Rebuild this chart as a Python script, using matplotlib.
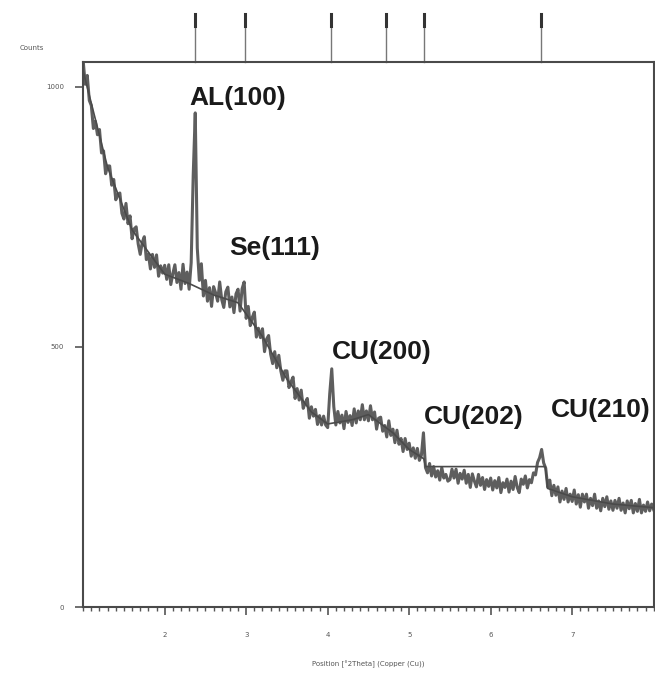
import numpy as np
import matplotlib
matplotlib.use('Agg')
import matplotlib.pyplot as plt
from matplotlib.ticker import MultipleLocator
import matplotlib.transforms as mtransforms

# scan grid in degrees (step 0.025)
two_theta = np.round(np.arange(1.0, 8.0001, 0.025), 3)

counts = np.array(
    [1050, 1005, 1022, 974, 964, 920, 934, 908, 918, 873, 877, 833, 848, 848, 811, 822, 783, 793, 796, 757,
     746, 776, 737, 752, 708, 727, 731, 698, 678, 701, 712, 668, 679, 650, 678, 653, 677, 636, 656, 642,
     657, 630, 658, 620, 641, 658, 624, 643, 611, 659, 622, 644, 611, 662, 830, 950, 690, 628, 660, 598,
     628, 588, 614, 578, 616, 604, 588, 625, 591, 576, 606, 615, 577, 596, 566, 602, 611, 569, 612, 625,
     555, 578, 541, 557, 567, 519, 536, 518, 535, 491, 515, 522, 486, 468, 491, 460, 484, 454, 436, 454,
     454, 422, 433, 442, 401, 420, 398, 417, 382, 393, 401, 363, 385, 367, 380, 351, 368, 350, 367, 350,
     345, 410, 458, 385, 350, 376, 354, 369, 343, 376, 355, 368, 349, 381, 354, 377, 360, 389, 360, 377,
     358, 387, 360, 375, 342, 363, 365, 338, 349, 327, 358, 330, 342, 316, 340, 313, 324, 299, 324, 303,
     315, 290, 306, 286, 305, 282, 292, 335, 268, 258, 276, 252, 270, 250, 262, 244, 268, 248, 255, 242,
     245, 265, 248, 265, 238, 257, 246, 263, 238, 255, 230, 256, 242, 231, 255, 234, 249, 226, 245, 232,
     248, 225, 243, 229, 249, 220, 239, 230, 246, 221, 242, 226, 251, 230, 220, 246, 236, 252, 229, 245,
     239, 258, 254, 278, 287, 303, 277, 267, 230, 244, 214, 234, 215, 231, 202, 223, 207, 228, 202, 217,
     203, 225, 198, 216, 192, 217, 202, 217, 190, 209, 195, 217, 190, 204, 185, 209, 193, 212, 188, 204,
     186, 205, 190, 209, 186, 200, 181, 204, 189, 205, 181, 199, 184, 207, 181, 196, 184, 202, 185, 198, 187])

# background / fitted line
bg_x = [1.0, 1.3, 1.6, 2.0, 2.3, 2.6, 2.9, 3.2, 3.5, 3.8, 4.0, 4.3, 4.5, 4.8, 5.0, 5.18, 5.2, 6.67, 6.7, 7.0, 7.5, 8.0]
bg_y = [1030, 845, 725, 640, 622, 600, 585, 520, 438, 375, 352, 360, 370, 335, 303, 285, 270, 270, 228, 212, 198, 191]

# reference peak markers along the top
marker_pos = [2.37, 2.98, 4.04, 4.72, 5.18, 6.62]

peak_labels = ['AL(100)', 'Se(111)', 'CU(200)', 'CU(202)', 'CU(210)']
label_x = [2.30, 2.79, 4.05, 5.18, 6.74]
label_y = [979, 691, 490, 365, 378]

x_ticks = [2, 3, 4, 5, 6, 7]
y_ticks = [0, 500, 1000]

fig = plt.figure(figsize=(6.55, 6.73), dpi=100)
ax = fig.add_axes([0.127, 0.098, 0.871, 0.81])

ax.plot(two_theta, counts, color='#5e5e5e', linewidth=2.2)
ax.plot(bg_x, bg_y, color='#4a4a4a', linewidth=1.2)

ax.set_xlim(1.0, 8.0)
ax.set_ylim(0, 1048)
ax.set_xticks(x_ticks)
ax.set_yticks(y_ticks)
ax.xaxis.set_minor_locator(MultipleLocator(0.1))
ax.tick_params(axis='both', which='major', direction='out', length=6, width=1.2,
               colors='#555555', labelsize=5)
ax.tick_params(axis='x', which='major', pad=12)
ax.tick_params(axis='y', which='major', pad=8)
ax.tick_params(axis='x', which='minor', direction='out', length=3, width=1.0, color='#555555')
for sp in ax.spines.values():
    sp.set_color('#4a4a4a')
    sp.set_linewidth(1.5)

ax.set_xlabel('Position [°2Theta] (Copper (Cu))', fontsize=5, color='#555555', labelpad=16)
fig.text(0.03, 0.925, 'Counts', fontsize=5, color='#555555')

# marker sticks above the frame
trans = mtransforms.blended_transform_factory(ax.transData, ax.transAxes)
for p in marker_pos:
    ax.plot([p, p], [1.0, 1.088], transform=trans, color='#777777', linewidth=1.0, clip_on=False)
    ax.plot([p, p], [1.066, 1.088], transform=trans, color='#333333', linewidth=2.2, clip_on=False)

for lab, lx, ly in zip(peak_labels, label_x, label_y):
    ax.text(lx, ly, lab, fontsize=19, fontweight='bold', va='center', ha='left',
            family=['Liberation Sans', 'DejaVu Sans'], color='#1a1a1a')

fig.savefig('out.png', dpi=100)
